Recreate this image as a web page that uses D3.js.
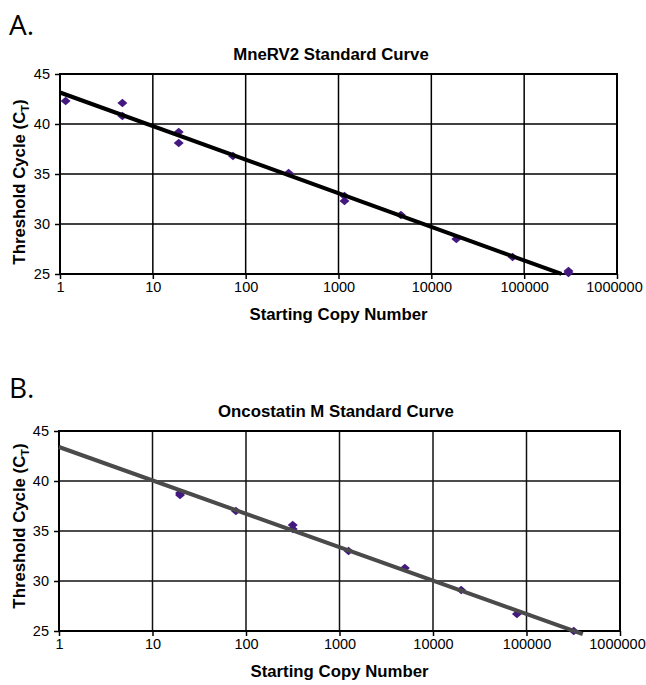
<!DOCTYPE html>
<html>
<head>
<meta charset="utf-8">
<script src="https://cdn.jsdelivr.net/npm/d3@7"></script>
<style>
  body { margin: 0; background: #fff; }
  text { font-family: "Liberation Sans", Arial, sans-serif; }
</style>
</head>
<body>
<svg id="chart"></svg>
<script>
// shared axis ticks
const xTicks = [1, 10, 100, 1000, 10000, 100000, 1000000];
const yTicks = [25, 30, 35, 40, 45];

// panel A - MneRV2
const mneCopies = [1.15, 4.7, 4.7, 19, 19, 73, 290, 1160, 1160, 4700, 18600, 75000, 300000, 300000];
const mneCt = [42.3, 42.1, 40.8, 39.2, 38.1, 36.8, 35.1, 32.8, 32.3, 30.9, 28.5, 26.7, 25.1, 25.3];
const mneFitX = [1, 252000];
const mneFit = { slope: -3.36, intercept: 43.15 };

// panel B - Oncostatin M
const oncoCopies = [19.7, 19.7, 78, 316, 316, 1250, 5000, 20000, 79000, 320000];
const oncoCt = [38.8, 38.6, 37.0, 35.6, 35.2, 33.0, 31.3, 29.1, 26.7, 25.0];
const oncoFitX = [1, 400000];
const oncoFit = { slope: -3.34, intercept: 43.4 };

const svg = d3.select('#chart')
    .attr("width", 646)
    .attr("height", 685);

// diamond marker, a bit wider than d3's own
const diamond = {
    draw: function (ctx, size) {
        const w = 5, h = 4.2;
        ctx.moveTo(0, -h);
        ctx.lineTo(w, 0);
        ctx.lineTo(0, h);
        ctx.lineTo(-w, 0);
        ctx.closePath();
    }
};

/**
 * Draws one standard curve panel
 */
const drawPanel = (p) => {
    const x = d3.scaleLog().domain([1, 1000000]).range([p.left, p.right]);
    const y = d3.scaleLinear().domain([25, 45]).range([p.bottom, p.top]);

    // panel letter
    svg.append("text")
        .attr("x", 9)
        .attr("y", p.letterY)
        .style("font-family", "'Open Sans', sans-serif")
        .style("font-size", "28px")
        .attr("fill", "#000")
        .text(p.letter);

    // title
    svg.append("text")
        .attr("x", p.titleX)
        .attr("y", p.top - 14)
        .attr("text-anchor", "middle")
        .style("font-size", "16.8px")
        .style("font-weight", "bold")
        .text(p.title);

    // grid
    svg.append("g").selectAll("line.v")
        .data(xTicks)
        .join("line")
        .attr("x1", d => x(d)).attr("x2", d => x(d))
        .attr("y1", p.top).attr("y2", p.bottom)
        .attr("stroke", p.gridColor).attr("stroke-width", 1.5);

    svg.append("g").selectAll("line.h")
        .data(yTicks)
        .join("line")
        .attr("x1", p.left).attr("x2", p.right)
        .attr("y1", d => y(d)).attr("y2", d => y(d))
        .attr("stroke", p.gridColor).attr("stroke-width", 1.5);

    svg.append("rect")
        .attr("x", p.left).attr("y", p.top)
        .attr("width", p.right - p.left).attr("height", p.bottom - p.top)
        .attr("fill", "none").attr("stroke", "#000").attr("stroke-width", 2);

    // axes
    const gx = svg.append("g")
        .attr("transform", "translate(0," + p.bottom + ")")
        .call(d3.axisBottom(x).tickValues(xTicks).tickFormat(d3.format("d")).tickSize(5).tickPadding(3));
    gx.select(".domain").remove();
    // last label pulled in a little so it stays on the page
    gx.selectAll(".tick text").filter(d => d === 1000000).attr("dx", -3);

    const gy = svg.append("g")
        .attr("transform", "translate(" + p.left + ",0)")
        .call(d3.axisLeft(y).tickValues(yTicks).tickSize(5).tickPadding(5));
    gy.select(".domain").remove();

    [gx, gy].forEach(g => {
        g.selectAll("line").attr("stroke", "#000").attr("stroke-width", 1.5);
        g.selectAll("text")
            .style("font-family", "'Liberation Sans', Arial, sans-serif")
            .style("font-size", "14.5px")
            .attr("fill", "#000");
    });

    // axis titles
    svg.append("text")
        .attr("x", (p.left + p.right) / 2)
        .attr("y", p.bottom + 46)
        .attr("text-anchor", "middle")
        .style("font-size", "16.8px")
        .style("font-weight", "bold")
        .text("Starting Copy Number");

    const yl = svg.append("text")
        .attr("transform", "translate(25," + p.yLabelY + ") rotate(-90)")
        .attr("text-anchor", "middle")
        .style("font-size", "16.8px")
        .style("font-weight", "bold");
    yl.append("tspan").text("Threshold Cycle (C");
    yl.append("tspan").attr("dy", 4).style("font-size", "11px").text("T");
    yl.append("tspan").attr("dy", -4).text(")");

    // fitted line
    const line = d3.line()
        .x(d => x(d))
        .y(d => y(p.fit.intercept + p.fit.slope * Math.log10(d)));

    // points
    svg.append("g").selectAll("path")
        .data(p.copies.map((c, i) => ({ c: c, ct: p.ct[i] })))
        .join("path")
        .attr("transform", d => "translate(" + x(d.c) + "," + y(d.ct) + ")")
        .attr("d", d3.symbol().type(diamond))
        .attr("fill", "#44197f");

    svg.append("path")
        .datum(p.fitX)
        .attr("fill", "none")
        .attr("stroke", p.lineColor)
        .attr("stroke-width", 4)
        .attr("d", line);
}

drawPanel({
    letter: "A.", letterY: 35,
    title: "MneRV2 Standard Curve", titleX: 331,
    left: 60, right: 617, top: 74, bottom: 274,
    yLabelY: 182,
    copies: mneCopies, ct: mneCt, fitX: mneFitX, fit: mneFit,
    lineColor: "#000", gridColor: "#000"
});

drawPanel({
    letter: "B.", letterY: 398,
    title: "Oncostatin M Standard Curve", titleX: 336,
    left: 59, right: 620, top: 431, bottom: 631,
    yLabelY: 526,
    copies: oncoCopies, ct: oncoCt, fitX: oncoFitX, fit: oncoFit,
    lineColor: "#4a4a4a", gridColor: "#111"
});
</script>
</body>
</html>
